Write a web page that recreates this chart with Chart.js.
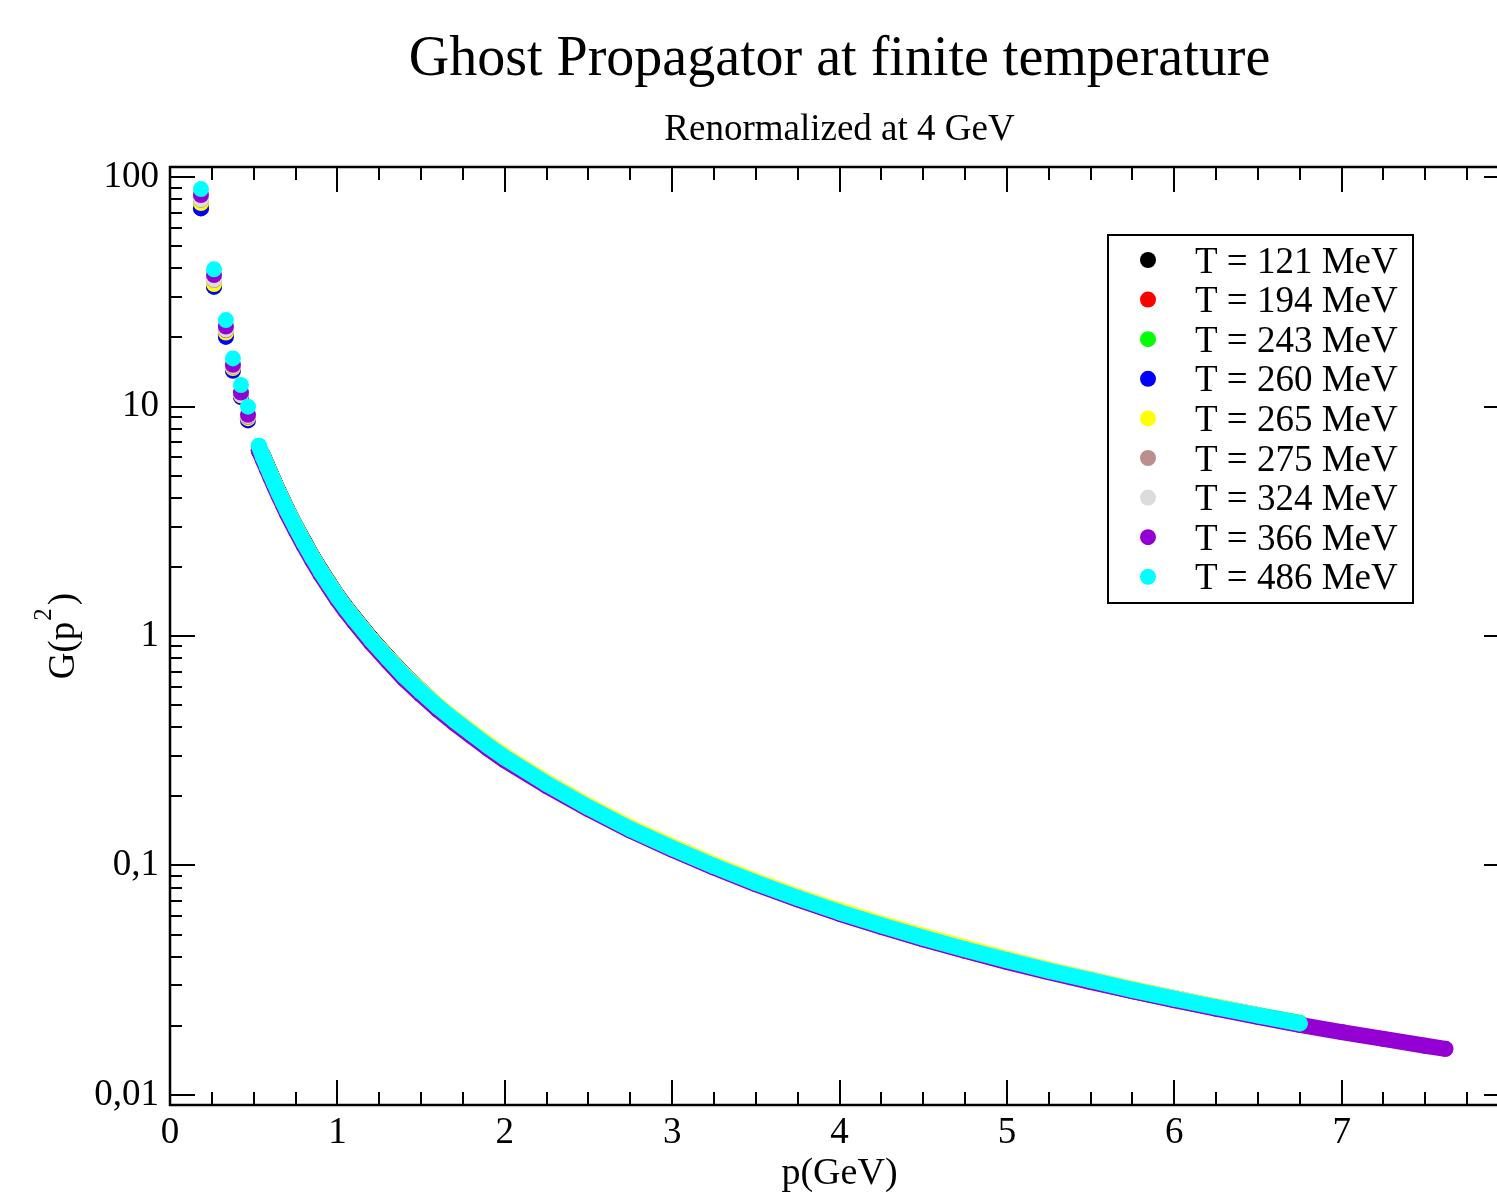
<!DOCTYPE html>
<html><head><meta charset="utf-8">
<script src="https://cdn.jsdelivr.net/npm/chart.js@4.4.1/dist/chart.umd.min.js"></script>
<style>html,body{margin:0;padding:0;overflow:hidden;background:#fff;}canvas{display:block;}</style>
</head><body>
<canvas id="c" width="1520" height="1198"></canvas>
<script>
const chartTitle = "Ghost Propagator at finite temperature";
const chartSubtitle = "Renormalized at 4 GeV";
const xAxisTitle = "p(GeV)";
const yAxisTitleMain = "G(p";
const yAxisTitleSup = "2";
const yAxisTitleEnd = ")";
const temperatures = [121, 194, 243, 260, 265, 275, 324, 366, 486];
const seriesColors = ["#000000", "#ff0000", "#00ff00", "#0000ff", "#ffff00", "#bc8f8f", "#dcdcdc", "#9400d3", "#00ffff"];

const momenta = [0.185,0.263,0.334,0.376,0.424,0.466,0.531,0.555,0.58,0.6,0.625,0.65,0.675,0.7,0.75,0.8,0.85,0.9,0.95,1.0,1.05,1.1,1.2,1.3,1.4,1.5,1.6,1.7,1.8,1.9,2.0,2.25,2.5,2.75,3.0,3.25,3.5,3.75,4.0,4.25,4.5,4.75,5.0,5.25,5.5,5.75,6.0,6.25,6.5,6.75,7.0,7.25,7.5,7.62];

const g121 = [73.5,33.5,20.5,14.6,11.1,8.9,6.45, 6.13,5.55,5.14,4.67,4.25,3.89,3.56, 3.02,2.59,2.23,1.94,1.705, 1.50,1.34,1.204, 0.980,0.812,0.678,0.578,0.496,0.432,0.379,0.334,0.2965, 0.228,0.180,0.1447,0.1196, 0.0999,0.0845,0.0726,0.0628, 0.0551,0.0486,0.0433,0.0388, 0.0350,0.0318,0.0288,0.0264, 0.0242,0.0223];
const g194 = [74,33.8,20.6,14.6,11.1,8.9,6.45, 6.01,5.44,5.03,4.58,4.17,3.81,3.49, 2.965,2.54,2.19,1.90,1.67, 1.473,1.313,1.180, 0.960,0.796,0.665,0.568,0.490,0.427,0.375,0.330,0.2935, 0.226,0.178,0.1433,0.1184, 0.0989,0.0837,0.0718,0.0622, 0.0545,0.0482,0.0429,0.0384, 0.0346,0.0314,0.0286,0.0261, 0.0240,0.0221];
const g243 = [75,34,20.8,14.7,11.2,9.0,6.5, 6.07,5.50,5.09,4.62,4.21,3.85,3.53, 2.995,2.56,2.21,1.92,1.69, 1.487,1.327,1.192, 0.970,0.804,0.671,0.574,0.494,0.431,0.379,0.334,0.2965, 0.228,0.180,0.1447,0.1196, 0.0999,0.0845,0.0726,0.0628, 0.0551,0.0486,0.0433,0.0388, 0.0350,0.0318,0.0288,0.0264, 0.0242,0.0223,0.0206];
const g260 = [73,33.2,20.1,14.3,11.0,8.7,6.4, 5.98,5.42,5.01,4.55,4.15,3.79,3.47, 2.95,2.52,2.18,1.89,1.66, 1.465,1.307,1.174, 0.955,0.792,0.661,0.565,0.487,0.425,0.373,0.329,0.292, 0.2247,0.1772,0.1426,0.1178, 0.0984,0.0833,0.0715,0.0619, 0.0543,0.0479,0.0427,0.0382, 0.0345,0.0313,0.0284,0.0260, 0.0239,0.0220,0.0203];
const g265 = [77,34.2,21.0,14.7,11.2,8.9,6.5, 6.04,5.47,5.06,4.60,4.19,3.83,3.51, 2.98,2.55,2.20,1.91,1.68, 1.48,1.32,1.19, 0.970,0.806,0.675,0.578,0.499,0.436,0.384,0.339,0.301, 0.2315,0.1826,0.1469,0.1214, 0.1014,0.0858,0.0736,0.0638, 0.0559,0.0494,0.0440,0.0393, 0.0353,0.0320,0.0290,0.0265, 0.0243,0.0223];
const g275 = [79.5,35.6,21.5,14.9,11.3,9.0,6.5, 6.00,5.43,5.02,4.57,4.16,3.80,3.48, 2.96,2.535,2.185,1.895,1.665, 1.47,1.31,1.178, 0.958,0.795,0.664,0.567,0.489,0.426,0.374,0.329,0.293, 0.2255,0.1778,0.1431,0.1182, 0.0988,0.0836,0.0717,0.0621, 0.0544,0.0481,0.0428,0.0383, 0.0345,0.0313,0.0285,0.0260, 0.0239,0.0220,0.0204];
const g324 = [80,35.8,21.7,15.0,11.3,9.1,6.55, 6.07,5.50,5.09,4.62,4.21,3.85,3.53, 2.995,2.56,2.21,1.92,1.69, 1.487,1.327,1.192, 0.970,0.804,0.671,0.574,0.494,0.431,0.379,0.334,0.2965, 0.228,0.180,0.1447,0.1196, 0.0999,0.0845,0.0726,0.0628, 0.0551,0.0486,0.0433,0.0388, 0.0350,0.0318,0.0288,0.0264, 0.0242,0.0223];
const g366 = [83.5,37.4,22.3,15.2,11.5,9.2,6.45, 5.86,5.31,4.91,4.46,4.06,3.72,3.40, 2.89,2.47,2.13,1.85,1.63, 1.435,1.28,1.15, 0.936,0.776,0.648,0.554,0.477,0.416,0.366,0.323,0.287, 0.222,0.176,0.142,0.1172, 0.0979,0.0828,0.0711,0.0616, 0.0540,0.0477,0.0425,0.0380, 0.0343,0.0311,0.0283,0.02586, 0.02374,0.02187,0.0202, 0.0188,0.01755,0.01638,0.01588];
const g486 = [88.6,39.6,23.8,16.2,12.4,9.98,6.75, 6.04,5.47,5.06,4.60,4.19,3.83,3.51, 2.98,2.55,2.20,1.91,1.68, 1.48,1.32,1.186, 0.965,0.800,0.668,0.571,0.492,0.429,0.377,0.332,0.295, 0.227,0.179,0.144,0.119, 0.0994,0.0841,0.0722,0.0625, 0.0548,0.0484,0.0431,0.0386, 0.0348,0.0316,0.0287,0.02625, 0.0241,0.0222,0.0205];
const seriesValues = [g121, g194, g243, g260, g265, g275, g324, g366, g486];

const xTickValues = [0, 1, 2, 3, 4, 5, 6, 7];
const xTickLabels = ["0", "1", "2", "3", "4", "5", "6", "7"];
const yTickValues = [0.01, 0.1, 1, 10, 100];
const yTickLabels = ["0,01", "0,1", "1", "10", "100"];

const SERIF = '"Liberation Serif", "Times New Roman", serif';

const datasets = seriesValues.map((vals, i) => {
  const col = seriesColors[i];
  return {
    label: "T = " + temperatures[i] + " MeV",
    data: vals.map((v, k) => ({ x: momenta[k], y: v })),
    showLine: true,
    borderColor: col,
    backgroundColor: col,
    borderWidth: 16,
    borderCapStyle: 'round',
    borderJoinStyle: 'round',
    pointRadius: 8,
    pointHoverRadius: 8,
    pointBorderWidth: 0,
    pointBackgroundColor: col,
    tension: 0,
    order: seriesValues.length - 1 - i,
    segment: { borderColor: ctx => (ctx.p0.parsed.x < 0.5 ? 'rgba(0,0,0,0)' : col) }
  };
});

function line(ctx, x1, y1, x2, y2) { ctx.beginPath(); ctx.moveTo(x1, y1); ctx.lineTo(x2, y2); ctx.stroke(); }

const decor = {
  id: 'decor',
  afterDraw(chart) {
    const ctx = chart.ctx, a = chart.chartArea, xs = chart.scales.x, ys = chart.scales.y;
    ctx.save();
    ctx.strokeStyle = '#000';
    ctx.lineWidth = 2;
    for (let k = 0; k <= 32; k++) {
      const px = Math.round(xs.getPixelForValue(k * 0.25));
      const len = (k % 4 === 0) ? 25 : 13;
      line(ctx, px, a.bottom, px, a.bottom - len);
      line(ctx, px, a.top, px, a.top + len);
    }
    for (let e = -3; e <= 2; e++) {
      for (let m = 1; m <= 9; m++) {
        const v = m * Math.pow(10, e);
        if (v < ys.min || v > ys.max) continue;
        const py = Math.round(ys.getPixelForValue(v));
        const len = (m === 1) ? 25 : 12;
        line(ctx, a.left, py, a.left + len, py);
        line(ctx, a.right, py, a.right - len, py);
      }
    }
    ctx.lineWidth = 2.5;
    ctx.strokeRect(a.left, a.top, a.right - a.left, a.bottom - a.top);

    const cx = (a.left + a.right) / 2;
    ctx.fillStyle = '#000';
    ctx.textAlign = 'center';
    ctx.textBaseline = 'alphabetic';
    ctx.font = '56px ' + SERIF;
    ctx.fillText(chartTitle, cx, 75);
    ctx.font = '37px ' + SERIF;
    ctx.fillText(chartSubtitle, cx, 140);
    ctx.font = '38px ' + SERIF;
    ctx.fillText(xAxisTitle, cx, 1184);

    ctx.save();
    ctx.translate(74, 636);
    ctx.rotate(-Math.PI / 2);
    ctx.font = '37px ' + SERIF;
    const w1 = ctx.measureText(yAxisTitleMain).width;
    ctx.font = '25px ' + SERIF;
    const w2 = ctx.measureText(yAxisTitleSup).width;
    ctx.font = '37px ' + SERIF;
    const w3 = ctx.measureText(yAxisTitleEnd).width;
    const tot = w1 + w2 + 4 + w3;
    const sx = -tot / 2;
    ctx.textAlign = 'left';
    ctx.fillText(yAxisTitleMain, sx, 0);
    ctx.font = '25px ' + SERIF;
    ctx.fillText(yAxisTitleSup, sx + w1 + 1, -23);
    ctx.font = '37px ' + SERIF;
    ctx.fillText(yAxisTitleEnd, sx + w1 + w2 + 4, 0);
    ctx.restore();

    const lx = 1108, ly = 235, lw = 305, lh = 368;
    ctx.fillStyle = '#fff';
    ctx.fillRect(lx, ly, lw, lh);
    ctx.lineWidth = 2;
    ctx.strokeStyle = '#000';
    ctx.strokeRect(lx, ly, lw, lh);
    ctx.font = '37px ' + SERIF;
    ctx.textAlign = 'left';
    chart.data.datasets.forEach((ds, i) => {
      const y = 260 + i * 39.6;
      ctx.fillStyle = ds.backgroundColor;
      ctx.beginPath();
      ctx.arc(1148, y, 8, 0, Math.PI * 2);
      ctx.fill();
      ctx.fillStyle = '#000';
      ctx.fillText(ds.label, 1195, y + 12.5);
    });
    ctx.restore();
  }
};

new Chart(document.getElementById('c'), {
  type: 'scatter',
  data: { datasets },
  options: {
    responsive: false,
    animation: false,
    events: [],
    layout: { padding: { top: 167, right: 11, left: 0, bottom: 0 } },
    plugins: { legend: { display: false }, tooltip: { enabled: false }, title: { display: false } },
    scales: {
      x: {
        type: 'linear', min: 0, max: 8,
        grid: { display: false }, border: { display: false },
        afterBuildTicks: s => { s.ticks = xTickValues.map(v => ({ value: v })); },
        afterFit: s => { s.height = 93; },
        ticks: { autoSkip: false, maxRotation: 0, padding: -2, color: '#000',
          font: { family: SERIF, size: 37 },
          callback: (v, i) => xTickLabels[i] }
      },
      y: {
        type: 'logarithmic', min: 0.00904, max: 110.6,
        grid: { display: false }, border: { display: false },
        afterBuildTicks: s => { s.ticks = yTickValues.map(v => ({ value: v })); },
        afterFit: s => { s.width = 170; },
        ticks: { autoSkip: false, padding: 3, color: '#000',
          font: { family: SERIF, size: 37 },
          callback: (v, i) => yTickLabels[i] }
      }
    }
  },
  plugins: [decor]
});
</script>
</body></html>
